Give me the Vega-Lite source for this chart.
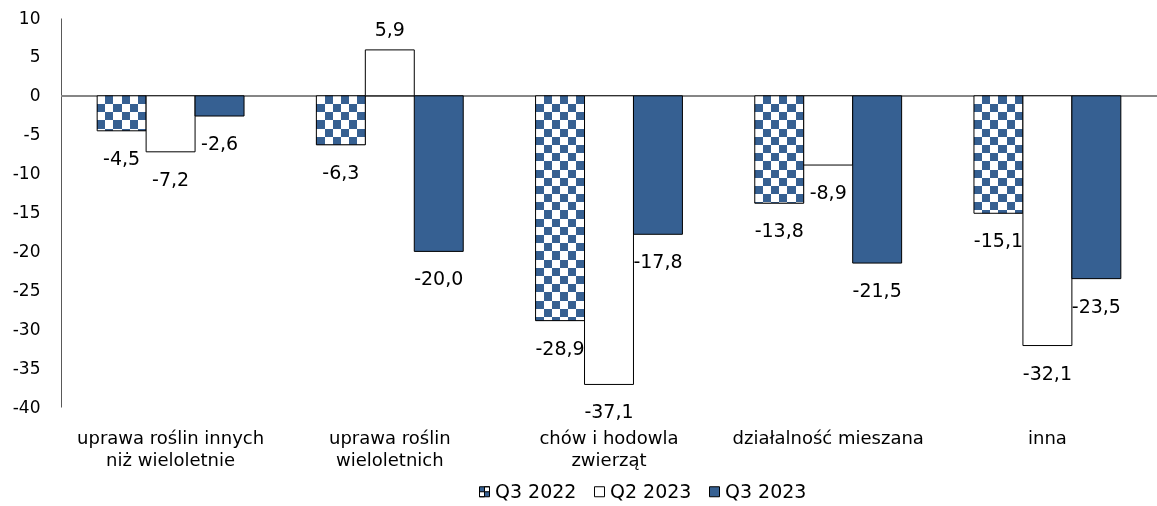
{
  "$schema": "https://vega.github.io/schema/vega-lite/v6.json",
  "width": 1096,
  "height": 389,
  "autosize": {"type": "none"},
  "padding": {"left": 61, "top": 18, "right": 0, "bottom": 99},
  "background": "white",
  "config": {
    "view": {"stroke": null},
    "font": "DejaVu Sans",
    "locale": {"number": {"decimal": ",", "thousands": " ", "grouping": [3], "currency": ["", " zł"], "minus": "-"}}
  },
  "params": [
    {"name": "hstripes", "value": [
      {"offset": 0, "color": "black"}, {"offset": 0.026316, "color": "black"},
      {"offset": 0.026316, "color": "white"}, {"offset": 0.052632, "color": "white"},
      {"offset": 0.052632, "color": "black"}, {"offset": 0.078947, "color": "black"},
      {"offset": 0.078947, "color": "white"}, {"offset": 0.105263, "color": "white"},
      {"offset": 0.105263, "color": "black"}, {"offset": 0.131579, "color": "black"},
      {"offset": 0.131579, "color": "white"}, {"offset": 0.157895, "color": "white"},
      {"offset": 0.157895, "color": "black"}, {"offset": 0.184211, "color": "black"},
      {"offset": 0.184211, "color": "white"}, {"offset": 0.210526, "color": "white"},
      {"offset": 0.210526, "color": "black"}, {"offset": 0.236842, "color": "black"},
      {"offset": 0.236842, "color": "white"}, {"offset": 0.263158, "color": "white"},
      {"offset": 0.263158, "color": "black"}, {"offset": 0.289474, "color": "black"},
      {"offset": 0.289474, "color": "white"}, {"offset": 0.315789, "color": "white"},
      {"offset": 0.315789, "color": "black"}, {"offset": 0.342105, "color": "black"},
      {"offset": 0.342105, "color": "white"}, {"offset": 0.368421, "color": "white"},
      {"offset": 0.368421, "color": "black"}, {"offset": 0.394737, "color": "black"},
      {"offset": 0.394737, "color": "white"}, {"offset": 0.421053, "color": "white"},
      {"offset": 0.421053, "color": "black"}, {"offset": 0.447368, "color": "black"},
      {"offset": 0.447368, "color": "white"}, {"offset": 0.473684, "color": "white"},
      {"offset": 0.473684, "color": "black"}, {"offset": 0.5, "color": "black"},
      {"offset": 0.5, "color": "white"}, {"offset": 0.526316, "color": "white"},
      {"offset": 0.526316, "color": "black"}, {"offset": 0.552632, "color": "black"},
      {"offset": 0.552632, "color": "white"}, {"offset": 0.578947, "color": "white"},
      {"offset": 0.578947, "color": "black"}, {"offset": 0.605263, "color": "black"},
      {"offset": 0.605263, "color": "white"}, {"offset": 0.631579, "color": "white"},
      {"offset": 0.631579, "color": "black"}, {"offset": 0.657895, "color": "black"},
      {"offset": 0.657895, "color": "white"}, {"offset": 0.684211, "color": "white"},
      {"offset": 0.684211, "color": "black"}, {"offset": 0.710526, "color": "black"},
      {"offset": 0.710526, "color": "white"}, {"offset": 0.736842, "color": "white"},
      {"offset": 0.736842, "color": "black"}, {"offset": 0.763158, "color": "black"},
      {"offset": 0.763158, "color": "white"}, {"offset": 0.789474, "color": "white"},
      {"offset": 0.789474, "color": "black"}, {"offset": 0.815789, "color": "black"},
      {"offset": 0.815789, "color": "white"}, {"offset": 0.842105, "color": "white"},
      {"offset": 0.842105, "color": "black"}, {"offset": 0.868421, "color": "black"},
      {"offset": 0.868421, "color": "white"}, {"offset": 0.894737, "color": "white"},
      {"offset": 0.894737, "color": "black"}, {"offset": 0.921053, "color": "black"},
      {"offset": 0.921053, "color": "white"}, {"offset": 0.947368, "color": "white"},
      {"offset": 0.947368, "color": "black"}, {"offset": 0.973684, "color": "black"},
      {"offset": 0.973684, "color": "white"}, {"offset": 1, "color": "white"}
    ]}
  ],
  "data": {"values": [
    {"cat": "uprawa roślin innych niż wieloletnie", "series": "Q3 2022", "value": -4.5},
    {"cat": "uprawa roślin innych niż wieloletnie", "series": "Q2 2023", "value": -7.2},
    {"cat": "uprawa roślin innych niż wieloletnie", "series": "Q3 2023", "value": -2.6},
    {"cat": "uprawa roślin wieloletnich", "series": "Q3 2022", "value": -6.3},
    {"cat": "uprawa roślin wieloletnich", "series": "Q2 2023", "value": 5.9},
    {"cat": "uprawa roślin wieloletnich", "series": "Q3 2023", "value": -20.0},
    {"cat": "chów i hodowla zwierząt", "series": "Q3 2022", "value": -28.9},
    {"cat": "chów i hodowla zwierząt", "series": "Q2 2023", "value": -37.1},
    {"cat": "chów i hodowla zwierząt", "series": "Q3 2023", "value": -17.8},
    {"cat": "działalność mieszana", "series": "Q3 2022", "value": -13.8},
    {"cat": "działalność mieszana", "series": "Q2 2023", "value": -8.9},
    {"cat": "działalność mieszana", "series": "Q3 2023", "value": -21.5},
    {"cat": "inna", "series": "Q3 2022", "value": -15.1},
    {"cat": "inna", "series": "Q2 2023", "value": -32.1},
    {"cat": "inna", "series": "Q3 2023", "value": -23.5}
  ]},
  "encoding": {
    "x": {
      "field": "cat", "type": "nominal", "title": null,
      "sort": ["uprawa roślin innych niż wieloletnie", "uprawa roślin wieloletnich", "chów i hodowla zwierząt", "działalność mieszana", "inna"],
      "scale": {"paddingInner": 0.33, "paddingOuter": 0.165},
      "axis": {
        "domain": false, "ticks": false, "tickSize": 0, "labelAngle": 0, "labelPadding": 31, "labelLimit": 0,
        "labelFontSize": 18, "labelColor": "black", "labelLineHeight": 22, "labelBaseline": "middle",
        "labelExpr": "datum.value == 'uprawa roślin innych niż wieloletnie' ? ['uprawa roślin innych', 'niż wieloletnie'] : datum.value == 'uprawa roślin wieloletnich' ? ['uprawa roślin', 'wieloletnich'] : datum.value == 'chów i hodowla zwierząt' ? ['chów i hodowla', 'zwierząt'] : datum.value"
      }
    },
    "xOffset": {"field": "series", "type": "nominal", "scale": {"domain": ["Q3 2022", "Q2 2023", "Q3 2023"], "paddingInner": 0, "paddingOuter": 0}},
    "y": {
      "field": "value", "type": "quantitative", "title": null,
      "scale": {"domain": [-40, 10], "nice": false, "zero": false},
      "axis": {
        "values": [-40, -35, -30, -25, -20, -15, -10, -5, 0, 5, 10],
        "format": "d", "grid": false, "ticks": false, "tickSize": 0, "labelPadding": 21,
        "domainColor": "#595959", "labelFontSize": 17, "labelColor": "black"
      }
    }
  },
  "layer": [
    {
      "mark": {"type": "rule", "color": "#868686", "strokeWidth": 1},
      "encoding": {"x": null, "xOffset": null, "y": {"datum": 0}}
    },
    {
      "transform": [{"filter": "datum.series == 'Q3 2022'"}],
      "mark": {"type": "bar", "fill": {"gradient": "linear", "x1": 0, "y1": 0, "x2": 1, "y2": 0, "stops": [
        {"offset": 0, "color": "white"}, {"offset": 0.16667, "color": "white"},
        {"offset": 0.16667, "color": "black"}, {"offset": 0.33333, "color": "black"},
        {"offset": 0.33333, "color": "white"}, {"offset": 0.5, "color": "white"},
        {"offset": 0.5, "color": "black"}, {"offset": 0.66667, "color": "black"},
        {"offset": 0.66667, "color": "white"}, {"offset": 0.83333, "color": "white"},
        {"offset": 0.83333, "color": "black"}, {"offset": 1, "color": "black"}
      ]}},
      "encoding": {"y2": {"datum": 0}}
    },
    {
      "transform": [{"filter": "datum.series == 'Q3 2022'"}],
      "mark": {"type": "bar", "blend": "difference", "fill": {"expr": "{gradient: 'linear', x1: 0, y1: 0, x2: 0, y2: 40 / abs(datum.value), stops: hstripes}"}},
      "encoding": {"y2": {"datum": 0}}
    },
    {
      "transform": [{"filter": "datum.series == 'Q3 2022'"}],
      "mark": {"type": "bar", "blend": "lighten", "fill": "#366092"},
      "encoding": {"y2": {"datum": 0}}
    },
    {
      "mark": {"type": "bar", "stroke": "black", "strokeWidth": 1},
      "encoding": {
        "y2": {"datum": 0},
        "fill": {
          "condition": [
            {"test": "datum.series == 'Q2 2023'", "value": "white"},
            {"test": "datum.series == 'Q3 2023'", "value": "#366092"}
          ],
          "value": "transparent"
        }
      }
    },
    {
      "transform": [{"filter": "false"}],
      "mark": {"type": "point", "filled": true, "opacity": 1, "stroke": "black", "strokeWidth": 1},
      "encoding": {
        "fill": {
          "field": "series", "type": "nominal", "title": null,
          "scale": {"domain": ["Q3 2022", "Q2 2023", "Q3 2023"], "range": ["#366092", "white", "#366092"]},
          "legend": {
            "orient": "none", "direction": "horizontal", "legendX": 414, "legendY": 464,
            "symbolSize": 100, "symbolStrokeColor": "black", "symbolStrokeWidth": 1, "symbolOpacity": 1,
            "labelFontSize": 19, "labelColor": "black", "labelOffset": 1, "columnPadding": 13
          }
        },
        "shape": {
          "field": "series", "type": "nominal", "title": null,
          "scale": {"domain": ["Q3 2022", "Q2 2023", "Q3 2023"], "range": ["M-1,-1H1V1H-1Z M0,-1V0H1V-1Z M-1,0V1H0V0Z", "square", "square"]}
        }
      }
    },
    {
      "transform": [{"filter": "datum.value < 0"}],
      "mark": {"type": "text", "fontSize": 19, "color": "black", "baseline": "middle", "dy": 28},
      "encoding": {"text": {"field": "value", "type": "quantitative", "format": ".1f"}}
    },
    {
      "transform": [{"filter": "datum.value >= 0"}],
      "mark": {"type": "text", "fontSize": 19, "color": "black", "baseline": "middle", "dy": -20},
      "encoding": {"text": {"field": "value", "type": "quantitative", "format": ".1f"}}
    }
  ]
}
